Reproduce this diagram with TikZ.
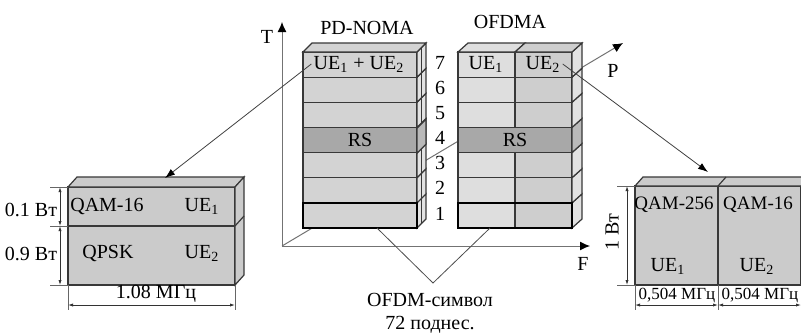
\documentclass[tikz,border=0pt]{standalone}
\usepackage{fontspec}
\setmainfont{Liberation Serif}
\usetikzlibrary{arrows.meta}

\definecolor{rowgray}{HTML}{D3D3D3}
\definecolor{rsgray}{HTML}{A8A8A8}
\definecolor{ueonegray}{HTML}{DEDEDE}
\definecolor{uetwogray}{HTML}{CECECE}
\definecolor{sidegray}{HTML}{E2E2E2}
\definecolor{boxgray}{HTML}{CBCBCB}
\definecolor{edgegray}{HTML}{383838}

\tikzset{
  edge/.style={draw=edgegray, line width=0.6pt},
  axis/.style={draw=black!55, line width=0.5pt, -{Latex[length=5pt,width=4.5pt,color=black]}},
  pointer/.style={draw=black!75, line width=0.4pt, -{Latex[length=5pt,width=3.5pt,color=black]}},
  dim/.style={draw=black!80, line width=0.4pt, {Latex[length=2.5pt,width=1.6pt]}-{Latex[length=2.5pt,width=1.6pt]}},
  ext/.style={draw=black!60, line width=0.4pt},
  lbl/.style={inner sep=1pt}
}

\begin{document}
\begin{tikzpicture}[x=0.5pt,y=-0.5pt,font=\fontsize{10}{12}\selectfont]

      \clip (0,0) rectangle (801,334);

      \coordinate (O) at (282,246);
      \draw[axis] (O) -- (623,43);
      \draw[axis] (O) -- (282,22);
      \draw[axis] (O) -- (590,246);
      \node[lbl] (tlab) at (267,37) {T};
      \node[lbl] (flab) at (583,264) {F};
      \node[lbl] (plab) at (613,71) {P};

      \foreach \k/\c in {1/rowgray,2/rowgray,3/rowgray,4/rsgray,5/rowgray,6/rowgray,7/rowgray} {
        \pgfmathsetmacro\yb{228-25.14*(\k-1)}
        \pgfmathsetmacro\yt{228-25.14*\k}
        \filldraw[edge, fill=\c] (303,\yt) rectangle (417,\yb);
        \filldraw[edge, fill=sidegray] (417,\yb) -- (426,\yb-9) -- (426,\yt-9) -- (417,\yt) -- cycle;
        \draw[edge] (421.5,\yb-4.5) -- (421.5,\yt-4.5);
      }
      \fill[rsgray!80] (417,153.3) -- (426,144.3) -- (426,119.2) -- (417,128.2) -- cycle;
      \draw[edge] (417,153.3) -- (426,144.3) -- (426,119.2) -- (417,128.2) -- cycle;
      \filldraw[edge, fill=rowgray] (303,52) -- (312,43) -- (426,43) -- (417,52) -- cycle;
      \draw[line width=1.3pt] (303,202.9) rectangle (417,228);

      \foreach \k in {1,...,7} {
        \pgfmathsetmacro\yb{228-25.14*(\k-1)}
        \pgfmathsetmacro\yt{228-25.14*\k}
        \ifnum\k=4
          \filldraw[edge, fill=rsgray] (458,\yt) rectangle (572,\yb);
          \filldraw[edge, fill=rsgray!80] (572,\yb) -- (582,\yb-9) -- (582,\yt-9) -- (572,\yt) -- cycle;
        \else
          \filldraw[edge, fill=ueonegray] (458,\yt) rectangle (515,\yb);
          \filldraw[edge, fill=uetwogray] (515,\yt) rectangle (572,\yb);
          \filldraw[edge, fill=sidegray] (572,\yb) -- (582,\yb-9) -- (582,\yt-9) -- (572,\yt) -- cycle;
        \fi
        \node[lbl] (num\k) at (440,{\yb-14.5}) {\k};
      }
      \filldraw[edge, fill=ueonegray] (458,52) -- (468,43) -- (525,43) -- (515,52) -- cycle;
      \filldraw[edge, fill=uetwogray] (515,52) -- (525,43) -- (582,43) -- (572,52) -- cycle;
      \draw[line width=1.3pt] (458,202.9) rectangle (572,228);

      \node (pdnoma) at (367,28) {PD-NOMA};
      \node (ofdma) at (510,22) {OFDMA};
      \node[lbl] (pdue) at (359,64) {UE\textsubscript{1} + UE\textsubscript{2}};
      \node[lbl] (pdrs) at (360,140) {RS};
      \node[lbl] (ofueone) at (486,64) {UE\textsubscript{1}};
      \node[lbl] (ofuetwo) at (543,64) {UE\textsubscript{2}};
      \node[lbl] (ofrs) at (515,140) {RS};

      \filldraw[edge, fill=boxgray] (68,187) rectangle (235,226);
      \filldraw[edge, fill=boxgray] (68,226) rectangle (235,285);
      \filldraw[edge, fill=boxgray] (68,187) -- (77,177) -- (244,177) -- (235,187) -- cycle;
      \filldraw[edge, fill=boxgray] (235,187) -- (244,177) -- (244,275) -- (235,285) -- cycle;
      \draw[edge] (235,226) -- (244,216);
      \node[lbl] (qamsixteen) at (107,206) {QAM-16};
      \node[lbl] (lueone) at (202,206) {UE\textsubscript{1}};
      \node[lbl] (qpsk) at (108,253) {QPSK};
      \node[lbl] (luetwo) at (202,253) {UE\textsubscript{2}};

      \draw[ext] (50,187) -- (68,187);
      \draw[ext] (50,226) -- (68,226);
      \draw[ext] (50,285) -- (68,285);
      \draw[dim] (60,187) -- (60,226);
      \draw[dim] (60,226) -- (60,285);
      \node[lbl] (pwone) at (31,210) {0.1 Вт};
      \node[lbl] (pwtwo) at (31,254) {0.9 Вт};
      \draw[ext] (68,285) -- (68,310);
      \draw[ext] (235,285) -- (235,310);
      \draw[dim] (68,305) -- (235,305);
      \node[lbl] (lbw) at (156,294) {1.08 МГц};

      \filldraw[edge, fill=boxgray] (635,186) rectangle (718,285);
      \filldraw[edge, fill=boxgray] (718,186) rectangle (801,285);
      \filldraw[edge, fill=boxgray] (635,186) -- (643,177) -- (809,177) -- (801,186) -- cycle;
      \draw[edge] (718,186) -- (726,177);
      \node[lbl, font=\fontsize{9.5}{11}\selectfont] (qamtwofivesix) at (674,205) {QAM-256};
      \node[lbl, font=\fontsize{9.5}{11}\selectfont] (rqamsixteen) at (758,205) {QAM-16};
      \node[lbl] (rueone) at (668,266) {UE\textsubscript{1}};
      \node[lbl] (ruetwo) at (757,266) {UE\textsubscript{2}};

      \draw[ext] (617,186) -- (635,186);
      \draw[ext] (617,285) -- (635,285);
      \draw[dim] (627,186) -- (627,285);
      \node[lbl, rotate=90] (pwr) at (612,232) {1 Вт};
      \draw[ext] (635,285) -- (635,310);
      \draw[ext] (718,285) -- (718,310);
      \draw[dim] (635,305) -- (718,305);
      \draw[dim] (718,305) -- (801,305);
      \node[lbl, font=\fontsize{8.5}{10}\selectfont] (bwone) at (677,295) {0,504 МГц};
      \node[lbl, font=\fontsize{8.5}{10}\selectfont] (bwtwo) at (760,295) {0,504 МГц};

      \coordinate (ltip) at (165,178);
      \coordinate (rtip) at (708,172);
      \draw[pointer] (pdue.west) -- (ltip);
      \draw[pointer] (ofuetwo.east) -- (rtip);

      \coordinate (pdbot) at (377,228);
      \coordinate (ofbot) at (490,228);
      \coordinate (vtip) at (433,283);
      \draw[ext, draw=black!70] (pdbot) -- (vtip) -- (ofbot);
      \node[lbl] (sym) at (430,300) {OFDM-символ};
      \node[lbl] (subc) at (430,325) {72 поднес.};
    \end{tikzpicture}
\end{document}
